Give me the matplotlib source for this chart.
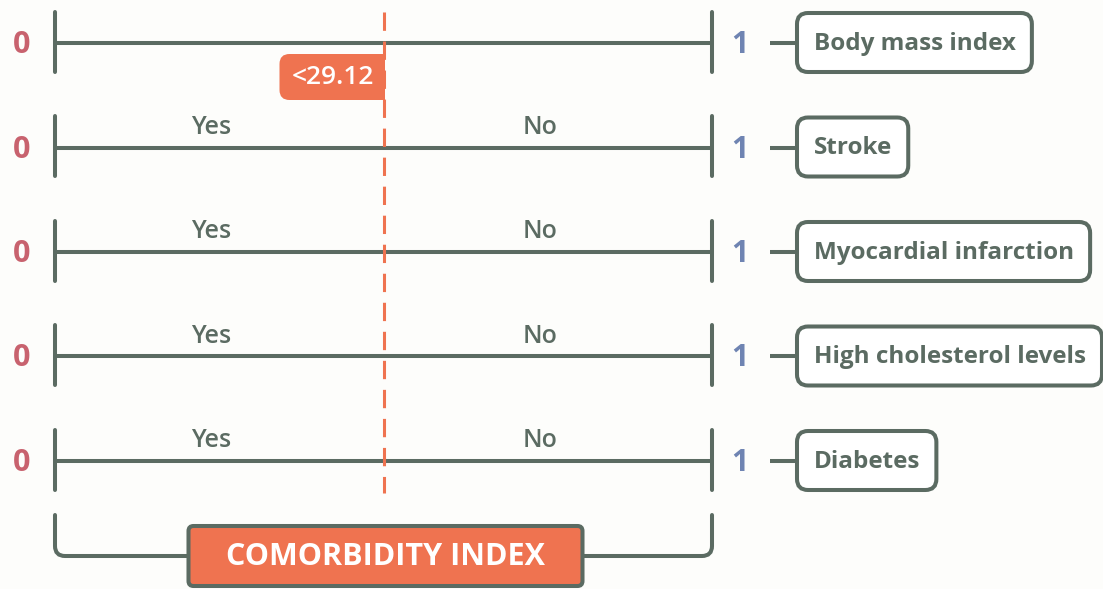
import matplotlib.pyplot as plt
from matplotlib.patches import FancyBboxPatch, Rectangle, PathPatch
from matplotlib.path import Path

# data
variables = ['Body mass index', 'Stroke', 'Myocardial infarction',
             'High cholesterol levels', 'Diabetes']
left_labels = ['', 'Yes', 'Yes', 'Yes', 'Yes']
right_labels = ['', 'No', 'No', 'No', 'No']
scale_ends = [0, 1]
split_pos = 0.5
split_label = '<29.12'
index_title = 'COMORBIDITY INDEX'

DARK = '#5b6b62'
ORANGE = '#ef7350'
ROSE = '#c8626e'
BLUE = '#6f84b2'
BG = '#fdfdfb'
FONT = 'Open Sans'

# pixel geometry of the canvas (scale 0..1 spans x=55..712 px, rows 104.5 px apart)
U, V = 657.0, 104.5
X0, Y0 = 55.0, 43.0
W, H = 1103, 589

def dx(p):
    return p / U

def dy(p):
    return p / V

fig = plt.figure(figsize=(W / 100, H / 100), dpi=100)
fig.patch.set_facecolor(BG)
ax = fig.add_axes([0, 0, 1, 1])
ax.set_xlim(-X0 / U, (W - X0) / U)
ax.set_ylim((H - Y0) / V, -Y0 / V)
ax.axis('off')

lw = 2.9
n = len(variables)
for i, name in enumerate(variables):
    ax.plot(scale_ends, [i, i], color=DARK, lw=lw, solid_capstyle='butt')
    for e in scale_ends:
        ax.plot([e, e], [i - dy(31), i + dy(29)], color=DARK, lw=lw,
                solid_capstyle='round')
    ax.text(scale_ends[0] - dx(33), i + dy(2), str(scale_ends[0]), ha='center', va='center',
            fontsize=22, fontweight='bold', color=ROSE, family=FONT)
    ax.text(scale_ends[1] + dx(28), i + dy(2), str(scale_ends[1]), ha='center', va='center',
            fontsize=22, fontweight='bold', color=BLUE, family=FONT)
    if left_labels[i]:
        ax.text(0.238, i - dy(20), left_labels[i], ha='center', va='center',
                fontsize=18, fontweight='semibold', color=DARK, family=FONT)
        ax.text(0.738, i - dy(20), right_labels[i], ha='center', va='center',
                fontsize=18, fontweight='semibold', color=DARK, family=FONT)

    # connector + label box
    bx = scale_ends[1] + dx(85)
    ax.plot([scale_ends[1] + dx(58), bx], [i, i], color=DARK, lw=lw,
            solid_capstyle='butt')
    t = ax.text(bx + dx(17), i + dy(1), name, ha='left', va='center', fontsize=17.5,
                fontweight='bold', color=DARK, family=FONT, zorder=4)
    fig.canvas.draw()
    ext = t.get_window_extent()
    tw = ext.width / U
    box = FancyBboxPatch((bx, i - dy(30)), tw + dx(33), dy(59),
                         boxstyle='round,pad=0,rounding_size=%f' % dx(11),
                         mutation_aspect=U / V,
                         fc='white', ec=DARK, lw=lw, zorder=3)
    ax.add_patch(box)

# dashed split line
ax.plot([split_pos, split_pos], [-dy(31), (n - 1) + dy(32)], color=ORANGE,
        lw=2.2, ls=(0, (6, 3.5)), zorder=5)

# split value tag
tag_w, tag_h = dx(104), dy(46)
tag_top = dy(11)
tag = FancyBboxPatch((split_pos - tag_w, tag_top), tag_w, tag_h,
                     boxstyle='round,pad=0,rounding_size=%f' % dx(10),
                     mutation_aspect=U / V, fc=ORANGE, ec='none', zorder=6)
ax.add_patch(tag)
ax.add_patch(Rectangle((split_pos - tag_w / 2, tag_top), tag_w / 2 + dx(1.5), tag_h,
                       fc=ORANGE, ec='none', zorder=6))
ax.text(split_pos - tag_w / 2 + dx(1), tag_top + tag_h / 2 + dy(1), split_label,
        ha='center', va='center', fontsize=19, fontweight='semibold', color='white',
        family=FONT, zorder=7)

# bottom bracket
top_b = (n - 1) + dy(54)
bot_b = (n - 1) + dy(95)
r = 10
verts = [(scale_ends[0], top_b), (scale_ends[0], bot_b - dy(r)),
         (scale_ends[0], bot_b), (scale_ends[0] + dx(r), bot_b),
         (scale_ends[1] - dx(r), bot_b),
         (scale_ends[1], bot_b), (scale_ends[1], bot_b - dy(r)),
         (scale_ends[1], top_b)]
codes = [Path.MOVETO, Path.LINETO, Path.CURVE3, Path.CURVE3, Path.LINETO,
         Path.CURVE3, Path.CURVE3, Path.LINETO]
ax.add_patch(PathPatch(Path(verts, codes), fc='none', ec=DARK, lw=lw,
                       capstyle='round', zorder=3))

# comorbidity index box
cx = split_pos + dx(2)
cw, ch = dx(394), dy(60)
ax.add_patch(FancyBboxPatch((cx - cw / 2, bot_b - ch / 2), cw, ch,
                            boxstyle='round,pad=0,rounding_size=%f' % dx(5),
                            mutation_aspect=U / V, fc=ORANGE, ec=DARK,
                            lw=lw, zorder=4))
ax.text(cx, bot_b + dy(1), index_title, ha='center', va='center',
        fontsize=22, fontweight='bold', color='white', family=FONT,
        zorder=5)

fig.savefig('out.png', dpi=100, facecolor=BG)
